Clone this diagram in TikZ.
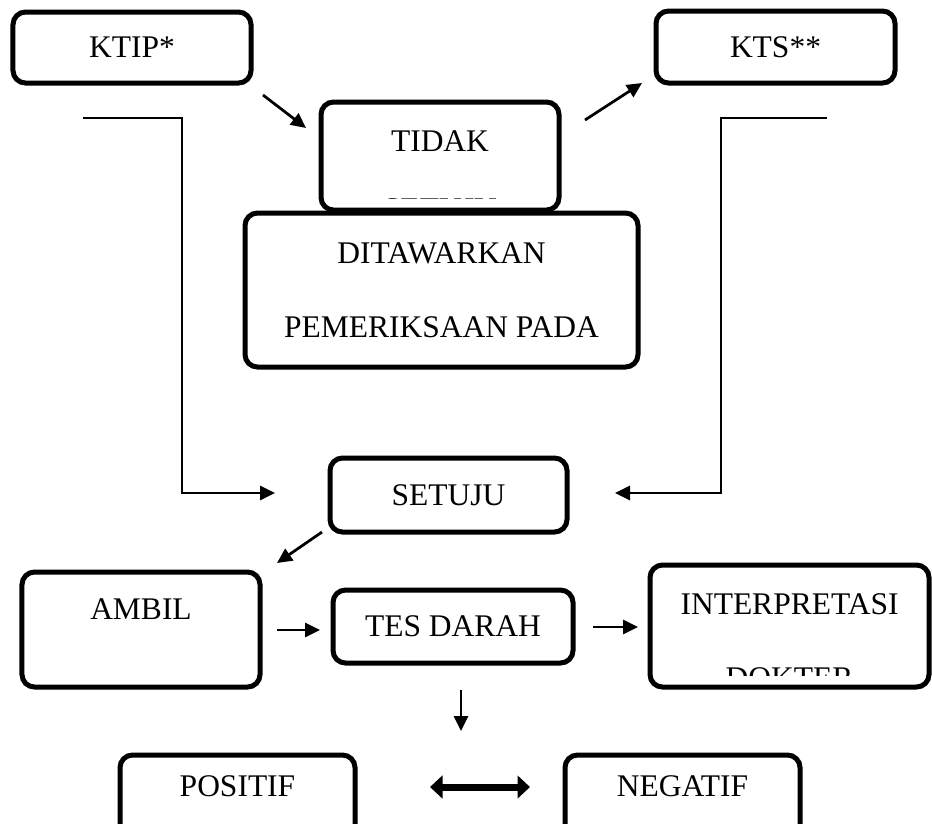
\documentclass[tikz,border=0pt]{standalone}
\usepackage{fontspec}
\setmainfont{Liberation Serif}
\usetikzlibrary{arrows.meta}

\tikzset{
  kotak/.style={draw, line width=2pt, rounded corners=5pt, inner sep=0pt},
  teks/.style={font=\fontsize{12.6}{15}\selectfont, inner sep=0pt},
  panah/.style={->, line width=1.1pt, >={Triangle[length=6pt,width=5.6pt]}},
  panahtebal/.style={<->, line width=2.8pt, >={Triangle[length=5pt,width=9pt]}}
}

\begin{document}
\begin{tikzpicture}[x=0.4pt,y=-0.4pt]
		\clip (0,0) rectangle (932,823);

		% kotak atas
		\node[kotak, teks, minimum width=95.2pt, minimum height=28.4pt] (ktip) at (132,47.5) {KTIP*};
		\node[kotak, teks, minimum width=95.6pt, minimum height=28.8pt] (kts) at (775.5,47) {KTS**};
		\node[kotak, minimum width=95.2pt, minimum height=43.2pt] (tidak) at (440,156) {};
		\node[teks, anchor=base] (tidak1) at (440,151) {TIDAK};
		\begin{scope}
			\clip (321,150) rectangle (559,198);
			\node[teks, anchor=base] (tidak2) at (440,219) {SETUJU};
		\end{scope}
		\node[kotak, minimum width=157.2pt, minimum height=61.6pt] (tawar) at (441.5,290) {};
		\node[teks, anchor=base] (tawar1) at (441.5,263) {DITAWARKAN};
		\node[teks, anchor=base] (tawar2) at (441.5,337) {PEMERIKSAAN PADA};

		% kotak tengah
		\node[kotak, teks, minimum width=94.8pt, minimum height=29.6pt] (setuju) at (448.5,495) {SETUJU};
		\node[kotak, minimum width=95.2pt, minimum height=46pt] (ambil) at (141,629.5) {};
		\node[teks, anchor=base] (ambil1) at (141,619) {AMBIL};
		\node[kotak, teks, minimum width=96pt, minimum height=29.2pt] (tes) at (453,626.5) {TES DARAH};
		\node[kotak, minimum width=111.6pt, minimum height=48.8pt] (interp) at (789.5,626) {};
		\node[teks, anchor=base] (interp1) at (789.5,614) {INTERPRETASI};
		\begin{scope}
			\clip (650,620) rectangle (929,675);
			\node[teks, anchor=base] (interp2) at (789.5,688) {DOKTER};
		\end{scope}

		% kotak bawah
		\node[kotak, minimum width=94pt, minimum height=38pt] (positif) at (237.5,802.5) {};
		\node[teks, anchor=base] (positif1) at (237.5,796) {POSITIF};
		\node[kotak, minimum width=94pt, minimum height=38pt] (negatif) at (682.5,802.5) {};
		\node[teks, anchor=base] (negatif1) at (682.5,796) {NEGATIF};

		% titik ujung panah
		\coordinate (p1) at (263,95);
		\coordinate (p2) at (306,128);
		\coordinate (p3) at (585,120);
		\coordinate (p4) at (642,83);
		\coordinate (ki1) at (83,118);
		\coordinate (ki2) at (182,493);
		\coordinate (ki3) at (275,493);
		\coordinate (ka1) at (827,118);
		\coordinate (ka2) at (721,493);
		\coordinate (ka3) at (615,493);
		\coordinate (p5) at (322,532);
		\coordinate (p6) at (277,563);
		\coordinate (p7) at (277,630);
		\coordinate (p8) at (320,630);
		\coordinate (p9) at (593,627);
		\coordinate (p10) at (638,627);
		\coordinate (p11) at (461,690);
		\coordinate (p12) at (461,731);
		\coordinate (p13) at (430,787);
		\coordinate (p14) at (530,787);

		\draw[panah] (p1) -- (p2);
		\draw[panah] (p3) -- (p4);
		\draw[panah] (ki1) -| (ki2) -- (ki3);
		\draw[panah] (ka1) -| (ka2) -- (ka3);
		\draw[panah] (p5) -- (p6);
		\draw[panah] (p7) -- (p8);
		\draw[panah] (p9) -- (p10);
		\draw[panah] (p11) -- (p12);
		\draw[panahtebal] (p13) -- (p14);
	\end{tikzpicture}
\end{document}
